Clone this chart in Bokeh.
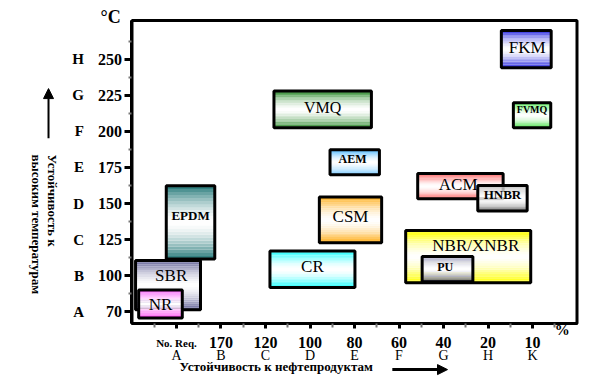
import math
from bokeh.plotting import figure
from bokeh.models import LinearAxis, FixedTicker, Range1d, Arrow, NormalHead
from bokeh.embed import file_html
from bokeh.resources import INLINE
from bokeh.core.properties import value

# ---- data ----
y_letters = ["A", "B", "C", "D", "E", "F", "G", "H"]
y_temps = ["70", "100", "125", "150", "175", "200", "225", "250"]
x_letters = ["A", "B", "C", "D", "E", "F", "G", "H", "K"]
x_values = ["No. Req.", "170", "120", "100", "80", "60", "40", "20", "10"]

names = ["VMQ", "AEM", "EPDM", "CSM", "CR", "SBR", "NR", "FKM", "FVMQ", "ACM", "HNBR", "NBR/XNBR", "PU"]
x_left = [2.19, 3.45, -0.23, 3.21, 2.10, -0.92, -0.85, 7.30, 7.57, 5.42, 6.77, 5.15, 5.52]
x_right = [4.38, 4.56, 0.86, 4.61, 4.01, 0.54, 0.13, 8.42, 8.41, 7.34, 7.88, 7.96, 6.66]
y_bottom = [5.10, 3.80, 1.46, 1.91, 0.67, 0.05, -0.18, 6.77, 5.10, 3.13, 2.79, 0.80, 0.83]
y_top = [6.12, 4.49, 3.49, 3.18, 1.68, 1.42, 0.60, 7.80, 5.80, 3.83, 3.50, 2.25, 1.53]

x_title = "Устойчивость к нефтепродуктам"
y_title = ["Устойчивость к", "высоким температурам"]
y_unit = "°C"
x_unit = "%"

# ---- layout / styles ----
X_LIM = (-1.0, 9.0)      # inner plot box, in category units
Y_LIM = (-0.33, 8.08)
VIEW_X = (-3.955, 9.528)  # whole canvas
VIEW_Y = (-2.19, 8.635)

top_colors = ["#2e8b2e", "#55bbff", "#2f8080", "#ffb020", "#22ffff", "#666699", "#ff55ff",
              "#3030e0", "#44ee44", "#ff5050", "#bbbbbb", "#ffff00", "#9999bb"]
bot_colors = ["#2e8b2e", "#55bbff", "#2f8080", "#ffb020", "#22ffff", "#666699", "#ff22ee",
              "#3030e0", "#22dd22", "#ff5050", "#777777", "#ffff00", "#333380"]
lab_size = [16, 12, 13, 17, 17, 17, 17, 17, 10, 17, 13, 17, 12]
lab_bold = [False, True, True, False, False, False, False, False, True, False, True, False, True]
lab_dx = [0.0, -0.05, 0.0, 0.0, 0.0, 0.07, 0.0, 0.02, 0.0, -0.05, 0.0, 0.17, -0.05]
lab_dy = [0.05, 0.08, 0.2, 0.1, 0.08, 0.28, 0.0, 0.05, 0.16, 0.05, 0.1, 0.3, 0.05]

SERIF = "Liberation Serif"


def hexrgb(h):
    h = h.lstrip("#")
    return tuple(int(h[i:i + 2], 16) for i in (0, 2, 4))


def mix(c, w):
    r, g, b = hexrgb(c)
    return "#%02x%02x%02x" % tuple(int(round(255 * (1 - w) + v * w)) for v in (r, g, b))


p = figure(width=600, height=390, x_range=Range1d(*VIEW_X), y_range=Range1d(*VIEW_Y),
           output_backend="svg", toolbar_location=None, min_border=0,
           x_axis_location=None, y_axis_location=None)
p.grid.visible = False
p.outline_line_color = None
p.background_fill_color = "white"
p.border_fill_color = "white"


def style_axis(ax, size, bold=True):
    ax.major_label_text_font = SERIF
    ax.major_label_text_font_style = "bold" if bold else "normal"
    ax.major_label_text_font_size = size
    ax.major_label_text_color = "black"


# y axis with temperatures
ya = LinearAxis(fixed_location=X_LIM[0], bounds=Y_LIM,
                ticker=FixedTicker(ticks=list(range(len(y_temps))),
                                   minor_ticks=[i + 0.5 for i in range(len(y_temps))]),
                major_label_overrides={i: t for i, t in enumerate(y_temps)})
ya.axis_line_width = 3
ya.axis_line_color = "black"
ya.major_tick_out = 7
ya.major_tick_in = 0
ya.major_tick_line_width = 3
ya.minor_tick_out = 3
ya.minor_tick_in = 0
ya.minor_tick_line_width = 2
ya.minor_tick_line_color = "#777777"
ya.major_label_standoff = 3
style_axis(ya, "16px")
p.add_layout(ya, "left")

ya2 = LinearAxis(fixed_location=X_LIM[0], bounds=Y_LIM,
                 ticker=FixedTicker(ticks=list(range(len(y_letters)))),
                 major_label_overrides={i: t for i, t in enumerate(y_letters)})
ya2.axis_line_color = None
ya2.major_tick_line_color = None
ya2.minor_tick_line_color = None
ya2.major_tick_out = 0
ya2.major_tick_in = 0
ya2.major_label_standoff = 48
style_axis(ya2, "15px")
p.add_layout(ya2, "left")

# x axis with oil resistance
xa = LinearAxis(fixed_location=Y_LIM[0], bounds=X_LIM,
                ticker=FixedTicker(ticks=list(range(len(x_values))),
                                   minor_ticks=[i - 0.5 for i in range(len(x_values) + 1)]),
                major_label_overrides={i: (t if i > 0 else "") for i, t in enumerate(x_values)})
xa.axis_line_width = 3
xa.axis_line_color = "black"
xa.major_tick_out = 5
xa.major_tick_in = 0
xa.major_tick_line_width = 3
xa.minor_tick_out = 4
xa.minor_tick_in = 0
xa.minor_tick_line_width = 2
xa.minor_tick_line_color = "#777777"
xa.major_label_standoff = 9
style_axis(xa, "16px")
p.add_layout(xa, "below")

xa2 = LinearAxis(fixed_location=Y_LIM[0], bounds=X_LIM,
                 ticker=FixedTicker(ticks=list(range(len(x_letters)))),
                 major_label_overrides={i: t for i, t in enumerate(x_letters)})
xa2.axis_line_color = None
xa2.major_tick_line_color = None
xa2.minor_tick_line_color = None
xa2.major_tick_out = 0
xa2.major_tick_in = 0
xa2.major_label_standoff = 25
style_axis(xa2, "14px", bold=False)
p.add_layout(xa2, "below")

# top and right edges of the plot box
p.quad(left=[X_LIM[0]], right=[X_LIM[1]], bottom=[Y_LIM[0]], top=[Y_LIM[1]],
       fill_color=None, line_color="black", line_width=3)

# boxes with vertical gradients
N = 24
for k, nm in enumerate(names):
    l, r, b, t = x_left[k], x_right[k], y_bottom[k], y_top[k]
    h = (t - b) / N
    lefts, rights, bots, tops, cols = [], [], [], [], []
    for i in range(N):
        f = (i + 0.5) / N
        d = abs(2 * f - 1)
        w = min(1.0, d ** 1.6 * 1.05)
        c = top_colors[k] if f > 0.5 else bot_colors[k]
        lefts.append(l)
        rights.append(r)
        bots.append(b + i * h)
        tops.append(b + (i + 1) * h + 0.002)
        cols.append(mix(c, w))
    p.quad(left=lefts, right=rights, bottom=bots, top=tops, fill_color=cols, line_color=None)
    p.quad(left=[l], right=[r], bottom=[b], top=[t], fill_color=None,
           line_color="black", line_width=3)
    p.text(x=[(l + r) / 2 + lab_dx[k]], y=[(b + t) / 2 + lab_dy[k]], text=[nm],
           text_font=value(SERIF), text_font_size="%dpx" % lab_size[k],
           text_font_style="bold" if lab_bold[k] else "normal",
           text_align="center", text_baseline="middle", text_color="black")


def txt(x, y, s, size, bold=True, align="center", angle=0.0):
    p.text(x=[x], y=[y], text=[s], text_font=value(SERIF), text_font_size=size,
           text_font_style="bold" if bold else "normal", text_align=align,
           text_baseline="middle", text_color="black", angle=angle)


txt(0, -0.86, x_values[0], "11px")
txt(-1.48, 8.19, y_unit, "18px")
txt(8.67, -0.5, x_unit, "15px")
txt(2.24, -1.53, x_title, "13px")
txt(-2.78, 4.36, y_title[0], "13px", align="left", angle=-math.pi / 2)
txt(-3.14, 4.36, y_title[1], "13px", align="left", angle=-math.pi / 2)

p.add_layout(Arrow(end=NormalHead(size=10, fill_color="black", line_color="black"),
                   x_start=-2.876, y_start=4.81, x_end=-2.876, y_end=6.19,
                   line_width=2, line_color="black"))
p.add_layout(Arrow(end=NormalHead(size=10, fill_color="black", line_color="black"),
                   x_start=4.85, y_start=-1.61, x_end=6.09, y_end=-1.61,
                   line_width=3, line_color="black"))

open("out.html", "w").write(file_html(p, INLINE))
